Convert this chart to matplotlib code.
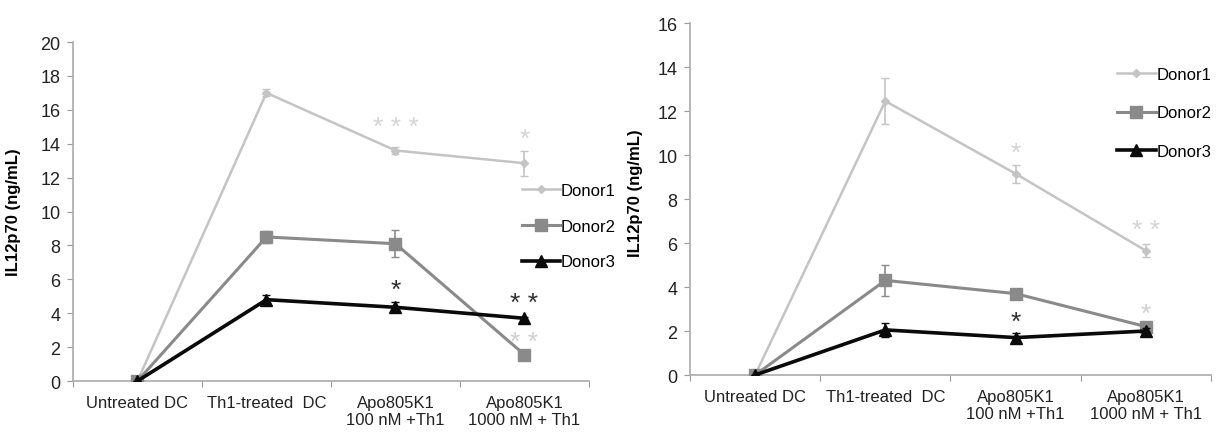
import numpy as np
import matplotlib as mpl
import matplotlib.pyplot as plt
from matplotlib.lines import Line2D

mpl.rcParams['font.family'] = ['Liberation Sans', 'DejaVu Sans']

categories = ['Untreated DC', 'Th1-treated  DC', 'Apo805K1\n100 nM +Th1', 'Apo805K1\n1000 nM + Th1']
donors = ['Donor1', 'Donor2', 'Donor3']

# left panel
left_vals = [[0, 17.0, 13.6, 12.85],
             [0, 8.5, 8.1, 1.55],
             [0, 4.8, 4.35, 3.7]]
left_errs = [[0, 0.2, 0.2, 0.75],
             [0, 0.35, 0.8, 0.0],
             [0, 0.3, 0.3, 0.1]]
left_stars = [(2, 15.0, '* * *', 0), (3, 14.3, '*', 0), (2, 5.4, '*', 2),
              (3, 4.6, '* *', 2), (3, 2.3, '* *', 1)]

# right panel
right_vals = [[0, 12.45, 9.15, 5.65],
              [0, 4.3, 3.7, 2.2],
              [0, 2.05, 1.7, 2.0]]
right_errs = [[0, 1.05, 0.4, 0.3],
              [0, 0.7, 0.2, 0.1],
              [0, 0.3, 0.2, 0.15]]
right_stars = [(2, 10.1, '*', 0), (3, 6.6, '* *', 0), (3, 2.8, '*', 1), (2, 2.4, '*', 2)]

colors = ['#c4c4c4', '#8a8a8a', '#0a0a0a']
star_colors = ['#d4d4d4', '#cfcfcf', '#303030']
markers = ['D', 's', '^']
msizes = [4.5, 8, 8.5]
lwidths = [1.8, 2.2, 2.6]

fig = plt.figure(figsize=(12.22, 4.39), dpi=100)
ax1 = fig.add_axes([0.0597, 0.1298, 0.4223, 0.7722])
ax2 = fig.add_axes([0.5646, 0.1435, 0.4264, 0.8018])

x = np.arange(len(categories))


def draw(ax, vals, errs, stars, ymax, ystep, leg_xy, spacing):
    handles = []
    for i in range(3):
        ax.errorbar(x, vals[i], yerr=errs[i], color=colors[i], marker=markers[i],
                    ms=msizes[i], lw=lwidths[i], capsize=3, elinewidth=1.2,
                    zorder=3 + i)
        handles.append(Line2D([], [], color=colors[i], marker=markers[i],
                              ms=msizes[i], lw=lwidths[i], label=donors[i]))
    for xi, yi, s, c in stars:
        ax.text(xi, yi, s, color=star_colors[c], ha='center', va='center',
                fontsize=19, zorder=10)
    ax.set_xlim(-0.5, 3.5)
    ax.set_ylim(0, ymax)
    ax.set_yticks(np.arange(0, ymax + 0.1, ystep))
    ax.set_xticks(np.arange(-0.5, 3.6, 1))
    ax.set_xticklabels([])
    ax.set_xticks(x, minor=True)
    ax.set_xticklabels(categories, minor=True, fontsize=12, color='#222222')
    ax.tick_params(axis='x', which='minor', length=0, pad=10)
    ax.tick_params(axis='x', which='major', length=4, color='#999999', direction='out')
    ax.tick_params(axis='y', length=4, color='#999999', labelsize=13, labelcolor='#222222', pad=5)
    for sp in ['top', 'right']:
        ax.spines[sp].set_visible(False)
    for sp in ['left', 'bottom']:
        ax.spines[sp].set_color('#aaaaaa')
        ax.spines[sp].set_linewidth(1.2)
    ax.set_ylabel('IL12p70 (ng/mL)', fontweight='bold', fontsize=12)
    ax.legend(handles=handles, loc='upper left', bbox_to_anchor=leg_xy, frameon=False,
              fontsize=12, handlelength=2.3, handletextpad=0.05, labelspacing=spacing,
              borderaxespad=0, borderpad=0)


draw(ax1, left_vals, left_errs, left_stars, 20, 2, (0.87, 0.585), 1.25)
ax1.yaxis.set_label_coords(-0.1, 0.5)
draw(ax2, right_vals, right_errs, right_stars, 16, 2, (0.82, 0.875), 1.4)
ax2.yaxis.set_label_coords(-0.09, 0.52)

fig.savefig('out.png', dpi=100)
